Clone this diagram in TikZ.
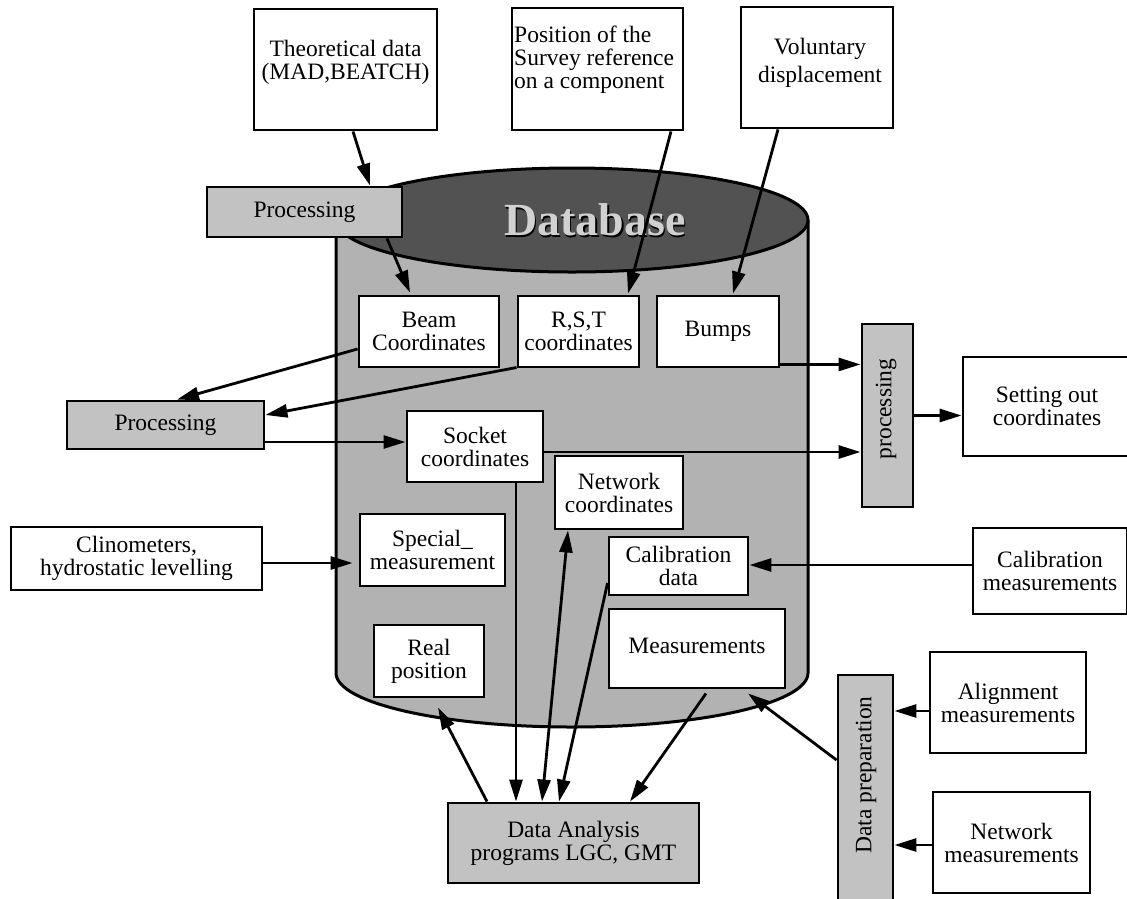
\documentclass[tikz,border=0pt]{standalone}
\usepackage{fontspec}
\setmainfont{Liberation Serif}
\usetikzlibrary{arrows.meta,calc}
\newcommand\fs{\fontsize{23.5}{23}\selectfont}
\begin{document}
\begin{tikzpicture}[x=1pt,y=-1pt,
  box/.style={draw, line width=2.9pt, fill=white, inner sep=0pt, align=center, font=\fs},
  shadedbox/.style={box, fill=black!24},
  lbl/.style={inner sep=0pt, align=center, font=\fs},
  conn/.style={line width=2.8pt, -{Triangle[length=22pt,width=13pt]}},
  dconn/.style={line width=2.8pt, {Triangle[length=22pt,width=13pt]}-{Triangle[length=22pt,width=13pt]}},
  wall/.style={line width=3pt}
]
\useasboundingbox (0,0) rectangle (1127,898);

% ---------- database cylinder ----------
\fill[black!30] (336,220) -- (336,673) arc[start angle=180, end angle=360, x radius=236, y radius=-54] -- (808,220) -- cycle;
\draw[wall] (336,220) -- (336,673) arc[start angle=180, end angle=360, x radius=236, y radius=-54] -- (808,220);
\draw[wall, fill=black!68] (572,220) ellipse[x radius=236, y radius=52];
\node[inner sep=0pt, font=\fontsize{46}{46}\selectfont\bfseries, text=black] (dbS) at (596.5,221.5) {Database};
\node[inner sep=0pt, font=\fontsize{46}{46}\selectfont\bfseries, text=black!18] (db) at (595,220) {Database};

% ---------- top boxes ----------
\node[box, minimum width=183, minimum height=121] (theo) at (345.5,69.5) {};
\node[lbl] (theoT) at (345.5,62) {Theoretical data\\(MAD,BEATCH)};
\node[box, minimum width=171, minimum height=122] (pos) at (597.5,69) {};
\node[lbl, anchor=west, align=left] (posT) at (514,60) {Position of the\\Survey reference\\on a component};
\node[box, minimum width=152, minimum height=121] (vol) at (817,67.5) {};
\node[lbl, font=\fontsize{23.5}{28}\selectfont] (volT) at (820,63) {Voluntary\\displacement};

\node[shadedbox, minimum width=195, minimum height=50] (proc1) at (304.5,212) {Processing};

% ---------- boxes inside the database ----------
\node[box, minimum width=140, minimum height=71] (beam) at (429,331.5) {Beam\\Coordinates};
\node[box, minimum width=121, minimum height=71] (rst) at (578.5,331.5) {R,S,T\\coordinates};
\node[box, minimum width=122, minimum height=71] (bumps) at (718,331.5) {Bumps};
\node[box, minimum width=136, minimum height=71] (socket) at (475,446.5) {Socket\\coordinates};
\node[box, minimum width=128, minimum height=73] (netc) at (619,492.5) {Network\\coordinates};
\node[box, minimum width=145, minimum height=72] (special) at (432.5,550) {Special\_\\measurement};
\node[box, minimum width=139, minimum height=58] (calib) at (678.5,566) {Calibration\\data};
\node[box, minimum width=110, minimum height=72] (realp) at (429,661) {Real\\position};
\node[box, minimum width=176, minimum height=79] (meas) at (697,648.5) {};
\node[lbl] (measT) at (697,646) {Measurements};

% ---------- outside boxes ----------
\node[shadedbox, minimum width=197, minimum height=48] (proc2) at (165.5,425) {Processing};
\node[box, minimum width=251, minimum height=63] (clino) at (136.5,558.5) {Clinometers,\\hydrostatic levelling};
\node[shadedbox, minimum width=51, minimum height=183] (procv) at (887.5,415.5) {};
\node[lbl, rotate=90] (procvT) at (886,409) {processing};
\node[box, minimum width=168, minimum height=99] (setout) at (1047,406.5) {Setting out\\coordinates};
\node[box, minimum width=154, minimum height=86] (calm) at (1050,571) {Calibration\\measurements};
\node[box, minimum width=156, minimum height=101] (align) at (1008,702.5) {Alignment\\measurements};
\node[box, minimum width=157, minimum height=101] (netm) at (1011.5,842.5) {Network\\measurements};
\node[shadedbox, minimum width=55, minimum height=230] (dprep) at (865.5,790) {};
\node[lbl, rotate=90] (dprepT) at (866,775) {Data preparation};
\node[shadedbox, minimum width=251, minimum height=80] (da) at (573.5,843) {Data Analysis\\programs LGC, GMT};

% ---------- connectors ----------
\draw[conn] ([xshift=7.5]theo.south) -- ([xshift=65.5]proc1.north);
\draw[conn] ([xshift=82.5]proc1.south) -- ([xshift=-19,yshift=2]beam.north);
\draw[conn] ([xshift=73.5]pos.south) -- ([xshift=49.5,yshift=1]rst.north);
\draw[conn] ([xshift=-39]vol.south) -- ([xshift=15,yshift=1]bumps.north);

\draw[conn] ([yshift=-17.5]beam.west) -- ([xshift=11.5]proc2.north);
\draw[conn] ([yshift=-36]rst.west) -- ([yshift=10]proc2.east);
\draw[conn] ([yshift=-17]proc2.east) -- ([yshift=-17]proc2.east -| socket.west);

\draw[conn] ([yshift=4]bumps.south east) -- ([yshift=4]bumps.south east -| procv.west);
\draw[conn] ([yshift=-5.5]socket.east) -- ([yshift=-5.5]socket.east -| procv.west);
\draw[conn] (procv.east) -- (procv.east -| setout.west);

\draw[conn] ([yshift=-4.5]clino.east) -- ([yshift=-4.5,xshift=-6]clino.east -| special.west);
\draw[conn] ([yshift=6]calm.west) -- ([yshift=6]calm.west -| calib.east);

\draw[conn] ([xshift=41]socket.south) -- ([xshift=41]socket.south |- da.north);
\draw[dconn] ([xshift=-31.5]da.north) -- ([xshift=-51]netc.south);
\draw[conn] ([yshift=-17]calib.west) -- ([xshift=-14.5]da.north);
\draw[conn] ([xshift=9,yshift=-4]meas.south) -- ([xshift=56.5]da.north);
\draw[conn] ([xshift=-86.5]da.north) -- ([xshift=9,yshift=-9]realp.south);
\draw[conn] ([yshift=30]dprep.west) -- ([xshift=51,yshift=-4]meas.south);

\draw[conn] ([yshift=-8.5]align.west) -- ([yshift=-8.5]align.west -| dprep.east);
\draw[conn] ([yshift=-2.5]netm.west) -- ([yshift=-2.5]netm.west -| dprep.east);
\end{tikzpicture}
\end{document}
